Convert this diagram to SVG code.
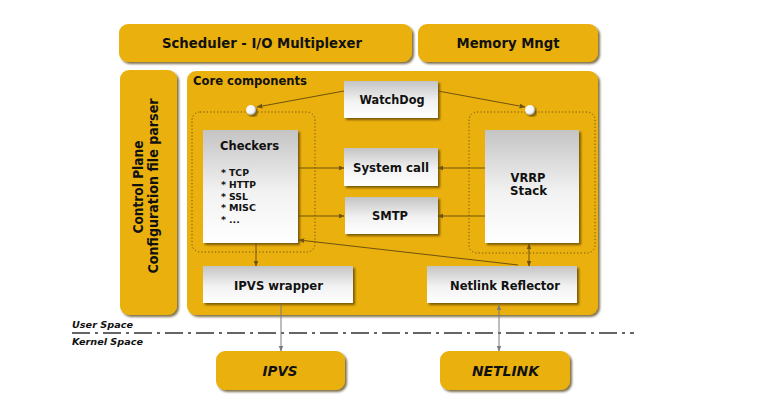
<svg xmlns="http://www.w3.org/2000/svg" width="773" height="410" viewBox="0 0 773 410">
<defs>
<filter id="sh" x="-10%" y="-10%" width="125%" height="130%">
<feDropShadow dx="2" dy="2" stdDeviation="1.2" flood-color="#4a3500" flood-opacity="0.7"/>
</filter>
<linearGradient id="wg" x1="0" y1="0" x2="0" y2="1">
<stop offset="0" stop-color="#c4c4c4"/>
<stop offset="0.55" stop-color="#f2f2f2"/>
<stop offset="1" stop-color="#ffffff"/>
</linearGradient>
<radialGradient id="cg" cx="0.4" cy="0.4" r="0.6">
<stop offset="0" stop-color="#ffffff"/>
<stop offset="0.7" stop-color="#f4f4f4"/>
<stop offset="1" stop-color="#b0b0b0"/>
</radialGradient>
<marker id="ah" viewBox="0 0 10 10" refX="9" refY="5" markerWidth="6" markerHeight="6" orient="auto-start-reverse">
<path d="M0,1 L10,5 L0,9 z" fill="#6e5210"/>
</marker>
<marker id="ag" viewBox="0 0 10 10" refX="9" refY="5" markerWidth="6" markerHeight="6" orient="auto-start-reverse">
<path d="M0,1 L10,5 L0,9 z" fill="#7a7a7a"/>
</marker>
<style>
.gold{fill:#eab00f;filter:url(#sh)}
.white{fill:url(#wg);filter:url(#sh)}
.t{font-family:"DejaVu Sans","Liberation Sans",Arial,sans-serif;font-weight:bold;fill:#111;text-anchor:middle}
.s{font-family:"DejaVu Sans","Liberation Sans",Arial,sans-serif;font-weight:bold;fill:#111}
.dot{fill:none;stroke:#6e5210;stroke-width:1;stroke-dasharray:1.2 2.2}
.c{stroke:#6e5210;stroke-width:1;fill:none}
.g{stroke:#7a7a7a;stroke-width:1;fill:none}
</style>
</defs>
<rect width="773" height="410" fill="#ffffff"/>

<g id="scheduler">
<rect class="gold" x="119" y="24" width="293" height="38" rx="9"/>
<text class="t" x="262" y="48" font-size="13.5" textLength="200" lengthAdjust="spacingAndGlyphs">Scheduler - I/O Multiplexer</text>
</g>
<g id="memory">
<rect class="gold" x="418" y="24" width="180" height="38" rx="9"/>
<text class="t" x="508" y="48" font-size="13.5" textLength="103" lengthAdjust="spacingAndGlyphs">Memory Mngt</text>
</g>
<g id="control-plane">
<rect class="gold" x="120" y="70" width="57" height="245" rx="9"/>
<text class="t" font-size="13.5" transform="translate(143,187) rotate(-90)" textLength="93" lengthAdjust="spacingAndGlyphs">Control Plane</text>
<text class="t" font-size="13.5" transform="translate(158,186) rotate(-90)" textLength="175" lengthAdjust="spacingAndGlyphs">Configuration file parser</text>
</g>
<g id="core">
<rect class="gold" x="187" y="71" width="411" height="244" rx="9"/>
<text class="s" x="193" y="84.5" font-size="11.5" textLength="114" lengthAdjust="spacingAndGlyphs">Core components</text>
</g>

<g id="checkers-group">
<rect class="dot" x="192" y="112" width="123" height="140" rx="8"/>
<circle cx="251" cy="110" r="5" fill="url(#cg)" filter="url(#sh)"/>
</g>
<g id="vrrp-group">
<rect class="dot" x="469" y="112" width="126" height="141" rx="8"/>
<circle cx="530" cy="110" r="5" fill="url(#cg)" filter="url(#sh)"/>
</g>

<g id="watchdog">
<rect class="white" x="344" y="81" width="94" height="37"/>
<text class="t" x="392" y="103.5" font-size="12" textLength="65" lengthAdjust="spacingAndGlyphs">WatchDog</text>
</g>
<g id="checkers">
<rect class="white" x="203" y="130" width="95" height="113"/>
<text class="t" x="249.5" y="150" font-size="12" textLength="59" lengthAdjust="spacingAndGlyphs">Checkers</text>
<g class="s" font-size="9.5">
<text x="221" y="176">*</text><text x="229" y="176" textLength="20" lengthAdjust="spacingAndGlyphs">TCP</text>
<text x="221" y="188">*</text><text x="229" y="188" textLength="27" lengthAdjust="spacingAndGlyphs">HTTP</text>
<text x="221" y="200">*</text><text x="229" y="200" textLength="19" lengthAdjust="spacingAndGlyphs">SSL</text>
<text x="221" y="211">*</text><text x="229" y="211" textLength="27" lengthAdjust="spacingAndGlyphs">MISC</text>
<text x="221" y="223">*</text><text x="229" y="223">...</text>
</g>
</g>
<g id="system-call">
<rect class="white" x="344" y="148" width="94" height="38"/>
<text class="t" x="391" y="171.5" font-size="12" textLength="76" lengthAdjust="spacingAndGlyphs">System call</text>
</g>
<g id="smtp">
<rect class="white" x="345" y="197" width="93" height="37"/>
<text class="t" x="390" y="219.5" font-size="12" textLength="36" lengthAdjust="spacingAndGlyphs">SMTP</text>
</g>
<g id="vrrp">
<rect class="white" x="485" y="130" width="94" height="113"/>
<text class="t" x="528" y="181.5" font-size="12" textLength="35" lengthAdjust="spacingAndGlyphs">VRRP</text>
<text class="t" x="528.5" y="194.5" font-size="12" textLength="37" lengthAdjust="spacingAndGlyphs">Stack</text>
</g>
<g id="ipvs-wrapper">
<rect class="white" x="203" y="266" width="150" height="37"/>
<text class="t" x="278.5" y="289.5" font-size="12" textLength="89" lengthAdjust="spacingAndGlyphs">IPVS wrapper</text>
</g>
<g id="netlink-reflector">
<rect class="white" x="427" y="266" width="150" height="37"/>
<text class="t" x="505" y="289.5" font-size="12" textLength="110" lengthAdjust="spacingAndGlyphs">Netlink Reflector</text>
</g>

<g id="space-divider">
<line x1="72" y1="333" x2="634" y2="333" stroke="#333" stroke-width="1.3" stroke-dasharray="18 5 3 5"/>
<text class="s" x="72" y="328" font-style="italic" font-size="9.5" fill="#222" textLength="61" lengthAdjust="spacingAndGlyphs">User Space</text>
<text class="s" x="72" y="345" font-style="italic" font-size="9.5" fill="#222" textLength="71" lengthAdjust="spacingAndGlyphs">Kernel Space</text>
</g>

<g id="ipvs">
<rect class="gold" x="216" y="351" width="129" height="39" rx="9"/>
<text class="t" x="280" y="376" font-size="14" font-style="italic" textLength="35" lengthAdjust="spacingAndGlyphs">IPVS</text>
</g>
<g id="netlink">
<rect class="gold" x="440" y="351" width="130" height="39" rx="9"/>
<text class="t" x="505.5" y="376" font-size="14" font-style="italic" textLength="67" lengthAdjust="spacingAndGlyphs">NETLINK</text>
</g>

<g id="connectors">
<path class="c" d="M344,91 L257,107" marker-end="url(#ah)"/>
<path class="c" d="M438,91 L525,107" marker-end="url(#ah)"/>
<path class="c" d="M298,168 L344,168" marker-end="url(#ah)"/>
<path class="c" d="M298,216 L344,216" marker-end="url(#ah)"/>
<path class="c" d="M485,168 L438,168" marker-end="url(#ah)"/>
<path class="c" d="M485,216 L438,216" marker-end="url(#ah)"/>
<path class="c" d="M518,265 L299,240" marker-end="url(#ah)"/>
<path class="c" d="M256,243 L256,266" marker-end="url(#ah)"/>
<path class="c" d="M529,244 L529,266" marker-start="url(#ah)" marker-end="url(#ah)"/>
<path class="g" d="M281,305 L281,351" marker-end="url(#ag)"/>
<path class="g" d="M499,305 L499,351" marker-start="url(#ag)" marker-end="url(#ag)"/>
</g>
</svg>
